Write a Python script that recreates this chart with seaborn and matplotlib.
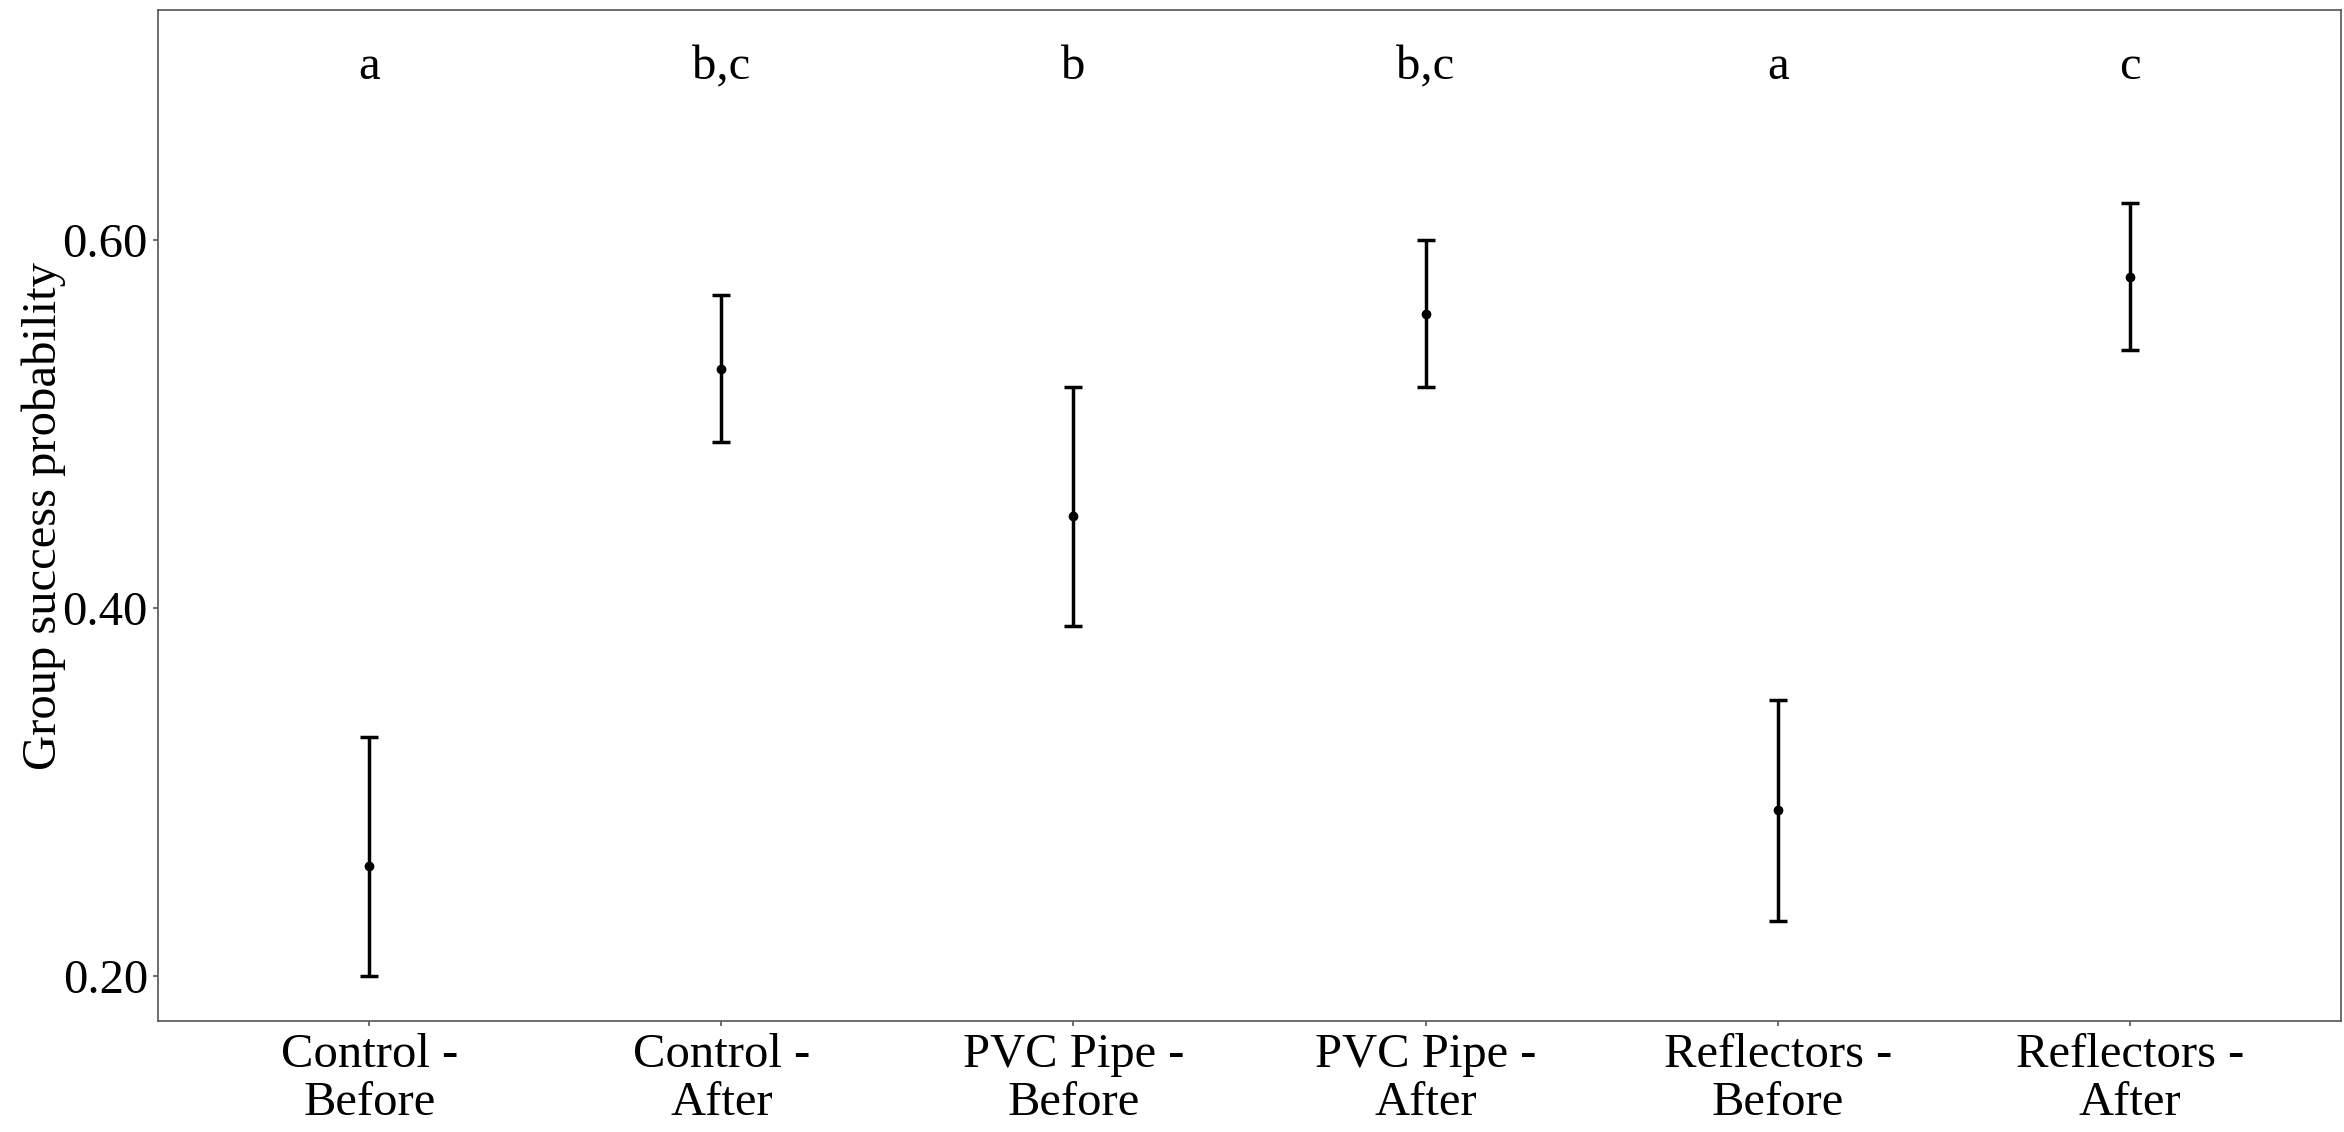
import matplotlib
matplotlib.use("Agg")
import matplotlib.pyplot as plt
import seaborn as sns
import pandas as pd

categories = ["Control -\nBefore", "Control -\nAfter", "PVC Pipe -\nBefore",
              "PVC Pipe -\nAfter", "Reflectors -\nBefore", "Reflectors -\nAfter"]
means = [0.26, 0.53, 0.45, 0.56, 0.29, 0.58]
lower = [0.20, 0.49, 0.39, 0.52, 0.23, 0.54]
upper = [0.33, 0.57, 0.52, 0.60, 0.35, 0.62]
letters = ["a", "b,c", "b", "b,c", "a", "c"]
letter_y = 0.694
yticks = [0.20, 0.40, 0.60]
ytick_labels = ["0.20", "0.40", "0.60"]

df = pd.DataFrame({"category": categories, "mean": means,
                   "lower": lower, "upper": upper, "letter": letters})

sns.set_theme(style="white")
plt.rcParams["font.family"] = ["Liberation Serif", "DejaVu Serif"]

W, H = 2344, 1132
dpi = 200
fig = plt.figure(figsize=(W / dpi, H / dpi), dpi=dpi)
ax = fig.add_axes([158 / W, 1 - 1021 / H, (2341 - 158) / W, (1021 - 10) / H])

ax.errorbar(df["category"], df["mean"],
            yerr=[df["mean"] - df["lower"], df["upper"] - df["mean"]],
            fmt="none", ecolor="black", elinewidth=1.25, capsize=3.2,
            capthick=1.25, zorder=2)
sns.scatterplot(data=df, x="category", y="mean", color="black", s=9,
                edgecolor="black", linewidth=0.5, ax=ax, zorder=3)

for i, lab in enumerate(df["letter"]):
    ax.text(i, letter_y, lab, ha="center", va="center", fontsize=17.5,
            color="black")

ax.set_xlim(-0.6, 5.6)
ax.set_ylim(0.1755, 0.725)
ax.set_yticks(yticks)
ax.set_yticklabels(ytick_labels)
ax.set_xlabel("")
ax.set_ylabel("Group success probability", fontsize=17.5, color="black")
ax.yaxis.set_label_coords(-0.042, 0.5)
ax.tick_params(axis="both", which="both", length=1.8, width=0.6,
               color="#555555", labelsize=17.5, labelcolor="black", pad=1.8,
               left=True, bottom=True)
ax.tick_params(axis="x", pad=2.6)
for lbl in ax.get_xticklabels():
    lbl.set_linespacing(1.12)
for sp in ax.spines.values():
    sp.set_color("#555555")
    sp.set_linewidth(0.6)
ax.grid(False)

fig.savefig("out.png", dpi=dpi)
